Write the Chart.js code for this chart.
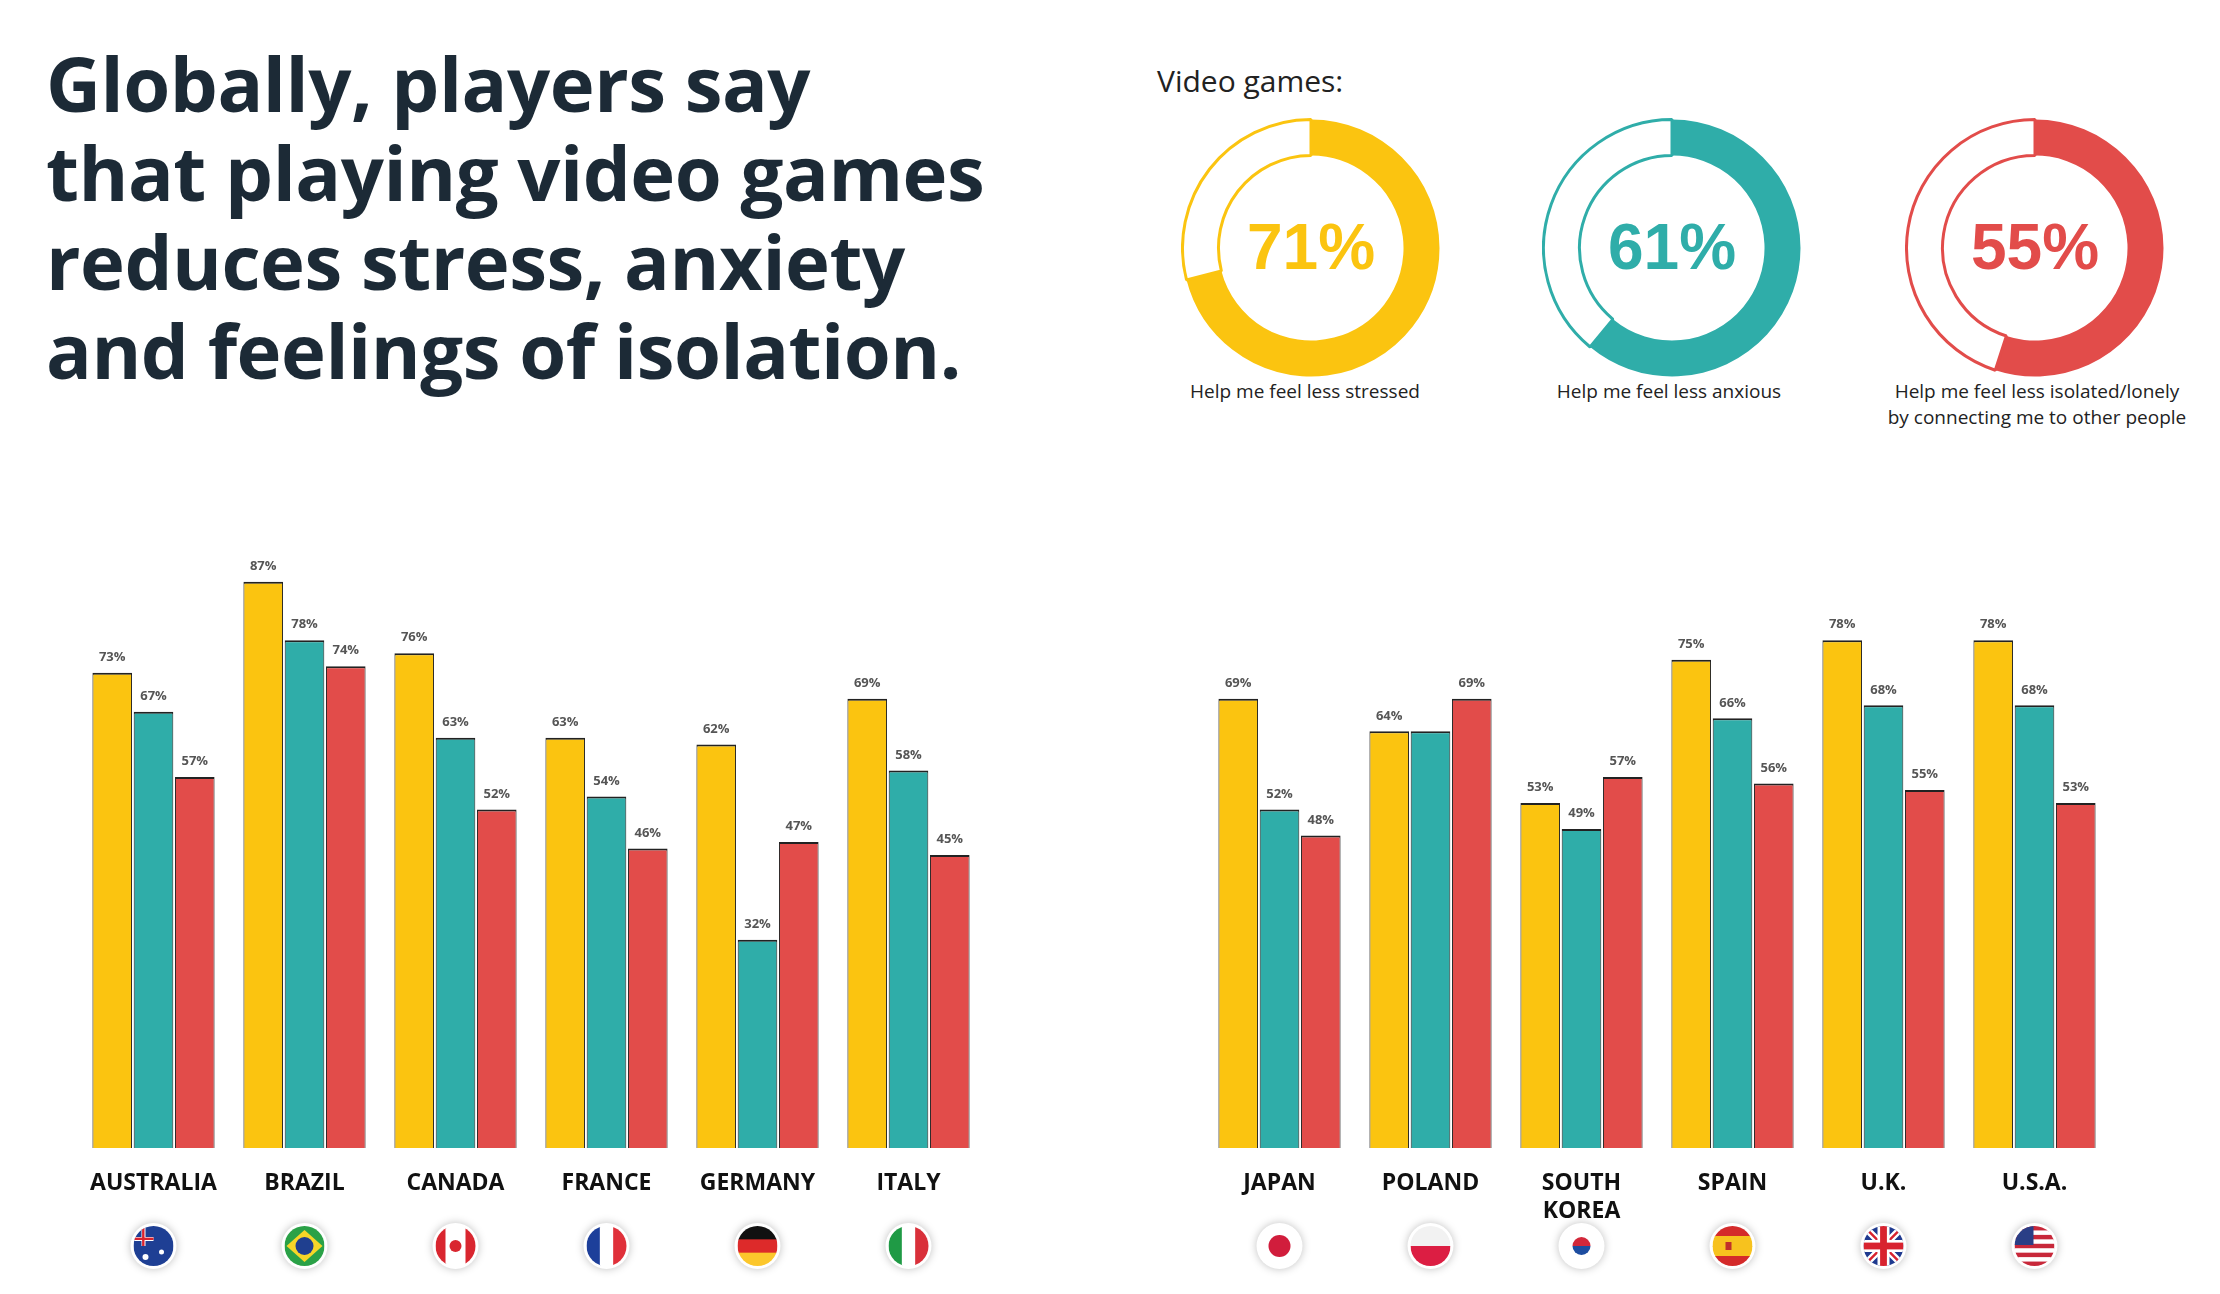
<!DOCTYPE html>
<html>
<head>
<meta charset="utf-8">
<script src="https://cdn.jsdelivr.net/npm/chart.js@4.4.1/dist/chart.umd.min.js"></script>
<style>
  body { margin: 0; width: 2220px; height: 1294px; background: #fff; position: relative; overflow: hidden; font-family: 'Open Sans', sans-serif; }
  .abs { position: absolute; }
  h1 { position: absolute; left: 46px; top: 38px; margin: 0; font-family: 'Open Sans', sans-serif; font-weight: 700; font-size: 76px; line-height: 89px; color: #1c2a36; letter-spacing: -0.5px; }
  .cap { position: absolute; width: 360px; text-align: center; font-size: 19px; line-height: 26px; color: #222; }
</style>
</head>
<body>
<h1>Globally, players say<br>that playing video games<br>reduces stress, anxiety<br>and feelings of isolation.</h1>
<div class="abs" style="left:1157px;top:60px;font-size:30px;color:#222">Video games:</div>

<canvas id="d0" class="abs" style="left:1181px;top:118px" width="260" height="260"></canvas>
<canvas id="d1" class="abs" style="left:1542px;top:118px" width="260" height="260"></canvas>
<canvas id="d2" class="abs" style="left:1905px;top:118px" width="260" height="260"></canvas>
<div class="cap" style="left:1125px;top:378px">Help me feel less stressed</div>
<div class="cap" style="left:1489px;top:378px">Help me feel less anxious</div>
<div class="cap" style="left:1857px;top:378px">Help me feel less isolated/lonely<br>by connecting me to other people</div>

<canvas id="left" class="abs" style="left:60px;top:480px" width="940" height="814"></canvas>
<canvas id="right" class="abs" style="left:1185px;top:480px" width="940" height="814"></canvas>

<script>
// colours
const YELLOW = '#fbc410', TEAL = '#2fada9', RED = '#e24c4a';

// global summary
const globalLabels = ['Help me feel less stressed', 'Help me feel less anxious', 'Help me feel less isolated/lonely'];
const globalValues = [71, 61, 55];

// per-country values
const leftCountries = ['AUSTRALIA', 'BRAZIL', 'CANADA', 'FRANCE', 'GERMANY', 'ITALY'];
const leftStressed = [73, 87, 76, 63, 62, 69];
const leftAnxious = [67, 78, 63, 54, 32, 58];
const leftIsolated = [57, 74, 52, 46, 47, 45];

const rightCountries = ['JAPAN', 'POLAND', ['SOUTH', 'KOREA'], 'SPAIN', 'U.K.', 'U.S.A.'];
const rightStressed = [69, 64, 53, 75, 78, 78];
const rightAnxious = [52, 64, 49, 66, 68, 68];
const rightIsolated = [48, 69, 57, 56, 55, 53];
// POLAND teal bar carries no label in the original
const hiddenLabels = { right: [[1, 1]] };

const leftFlags = ['au', 'br', 'ca', 'fr', 'de', 'it'];
const rightFlags = ['jp', 'pl', 'kr', 'es', 'uk', 'us'];

const ringColours = [YELLOW, TEAL, RED];

// donuts
globalValues.forEach(function (v, i) {
  const c = ringColours[i];
  new Chart(document.getElementById('d' + i), {
    type: 'doughnut',
    data: { labels: ['yes', 'rest'], datasets: [{ data: [v, 100 - v], backgroundColor: [c, '#fff'], borderColor: [c, c], borderWidth: [0, 3] }] },
    options: {
      responsive: false, animation: false, cutout: '72%',
      plugins: { legend: { display: false }, tooltip: { enabled: false } }
    },
    plugins: [{
      id: 'centre',
      afterDraw: function (chart) {
        const ctx = chart.ctx, a = chart.chartArea;
        ctx.save();
        ctx.fillStyle = c;
        ctx.font = 'bold 64px "Liberation Sans Narrow", "Liberation Sans", sans-serif';
        ctx.textAlign = 'center'; ctx.textBaseline = 'middle';
        ctx.fillText(v + '%', (a.left + a.right) / 2, (a.top + a.bottom) / 2 + 3);
        ctx.restore();
      }
    }]
  });
});

function drawFlag(ctx, code, x, y, r) {
  ctx.save();
  ctx.shadowColor = 'rgba(0,0,0,0.25)'; ctx.shadowBlur = 8;
  ctx.beginPath(); ctx.arc(x, y, r + 3, 0, Math.PI * 2); ctx.fillStyle = '#fff'; ctx.fill();
  ctx.shadowBlur = 0;
  ctx.beginPath(); ctx.arc(x, y, r, 0, Math.PI * 2); ctx.clip();
  const L = x - r, T = y - r, S = 2 * r;
  function rect(c, rx, ry, rw, rh) { ctx.fillStyle = c; ctx.fillRect(rx, ry, rw, rh); }
  function vstripes(cs) { cs.forEach(function (c, k) { rect(c, L + k * S / cs.length, T, S / cs.length + 1, S); }); }
  function hstripes(cs) { cs.forEach(function (c, k) { rect(c, L, T + k * S / cs.length, S, S / cs.length + 1); }); }
  function dot(c, dx, dy, dr) { ctx.fillStyle = c; ctx.beginPath(); ctx.arc(dx, dy, dr, 0, Math.PI * 2); ctx.fill(); }
  if (code === 'fr') vstripes(['#1d3f9a', '#fff', '#e0303a']);
  else if (code === 'it') vstripes(['#1f9a45', '#fff', '#d9303a']);
  else if (code === 'ca') { vstripes(['#d9262f', '#fff', '#fff', '#d9262f']); dot('#d9262f', x, y, r * 0.3); }
  else if (code === 'de') hstripes(['#111', '#dd2a2a', '#fcc72c']);
  else if (code === 'pl') hstripes(['#f2f2f2', '#dc1e43']);
  else if (code === 'es') { hstripes(['#d42a2a', '#f7c21e', '#f7c21e', '#d42a2a']); rect('#c0302a', x - r * 0.35, y - r * 0.2, r * 0.3, r * 0.4); }
  else if (code === 'jp') { rect('#fff', L, T, S, S); dot('#d11d3c', x, y, r * 0.55); }
  else if (code === 'kr') {
    rect('#fff', L, T, S, S);
    ctx.fillStyle = '#d3283a'; ctx.beginPath(); ctx.arc(x, y, r * 0.45, Math.PI, 0); ctx.fill();
    ctx.fillStyle = '#1d4da0'; ctx.beginPath(); ctx.arc(x, y, r * 0.45, 0, Math.PI); ctx.fill();
  }
  else if (code === 'br') {
    rect('#2aa147', L, T, S, S);
    ctx.fillStyle = '#f6d628'; ctx.beginPath();
    ctx.moveTo(x, T + 4); ctx.lineTo(L + S - 2, y); ctx.lineTo(x, T + S - 4); ctx.lineTo(L + 2, y); ctx.closePath(); ctx.fill();
    dot('#1f3f8f', x, y, r * 0.45);
  }
  else if (code === 'au') {
    rect('#1e3f94', L, T, S, S);
    rect('#fff', L, y - r * 0.45, r, r * 0.2); rect('#fff', x - r * 0.6, T, r * 0.2, r);
    rect('#d8232f', L, y - r * 0.42, r, r * 0.12); rect('#d8232f', x - r * 0.57, T, r * 0.12, r);
    dot('#fff', x + r * 0.4, y + r * 0.3, 2.5); dot('#fff', x - r * 0.4, y + r * 0.55, 3);
  }
  else if (code === 'uk') {
    rect('#1f3a8f', L, T, S, S);
    ctx.strokeStyle = '#fff'; ctx.lineWidth = r * 0.35;
    ctx.beginPath(); ctx.moveTo(L, T); ctx.lineTo(L + S, T + S); ctx.moveTo(L + S, T); ctx.lineTo(L, T + S); ctx.stroke();
    ctx.strokeStyle = '#d8232f'; ctx.lineWidth = r * 0.12; ctx.stroke();
    rect('#fff', x - r * 0.3, T, r * 0.6, S); rect('#fff', L, y - r * 0.3, S, r * 0.6);
    rect('#d8232f', x - r * 0.17, T, r * 0.34, S); rect('#d8232f', L, y - r * 0.17, S, r * 0.34);
  }
  else if (code === 'us') {
    const n = 9;
    for (let k = 0; k < n; k++) rect(k % 2 ? '#fff' : '#c8283a', L, T + k * S / n, S, S / n + 1);
    rect('#2a3e86', L, T, r * 0.95, r * 0.95);
  }
  ctx.restore();
}

function barChart(id, labels, s1, s2, s3, flags, hidden) {
  const makeSet = function (data, colour) {
    return { data: data, backgroundColor: colour, borderColor: '#222', borderWidth: { top: 2, left: 1, right: 1, bottom: 0 }, borderSkipped: false,
      categoryPercentage: 0.82, barPercentage: 0.96 };
  };
  return new Chart(document.getElementById(id), {
    type: 'bar',
    data: { labels: labels, datasets: [makeSet(s1, YELLOW), makeSet(s2, TEAL), makeSet(s3, RED)] },
    options: {
      responsive: false, animation: false,
      layout: { padding: { top: 17, left: id === 'left' ? 18 : 19, right: id === 'left' ? 16 : 15, bottom: 0 } },
      plugins: { legend: { display: false }, tooltip: { enabled: false } },
      scales: {
        y: { display: false, min: 0, max: 100 },
        x: {
          grid: { display: false }, border: { display: false },
          ticks: { color: '#111', padding: 14, font: { family: '"Liberation Sans Narrow", "Open Sans", sans-serif', weight: 'bold', size: 23 }, maxRotation: 0, autoSkip: false },
          afterFit: function (scale) { scale.height = 146; }
        }
      }
    },
    plugins: [{
      id: 'valueLabels',
      afterDatasetsDraw: function (chart) {
        const ctx = chart.ctx;
        ctx.save();
        ctx.fillStyle = '#555';
        ctx.font = 'bold 13px "Liberation Sans Narrow", "Open Sans", sans-serif';
        ctx.textAlign = 'center'; ctx.textBaseline = 'bottom';
        chart.data.datasets.forEach(function (ds, di) {
          chart.getDatasetMeta(di).data.forEach(function (bar, i) {
            if (hidden.some(function (h) { return h[0] === i && h[1] === di; })) return;
            ctx.fillText(ds.data[i] + '%', bar.x, bar.y - 9);
          });
        });
        const xs = chart.scales.x;
        flags.forEach(function (f, i) { drawFlag(ctx, f, xs.getPixelForTick(i), 766, 20); });
        ctx.restore();
      }
    }]
  });
}

barChart('left', leftCountries, leftStressed, leftAnxious, leftIsolated, leftFlags, []);
barChart('right', rightCountries, rightStressed, rightAnxious, rightIsolated, rightFlags, hiddenLabels.right);
</script>
</body>
</html>
